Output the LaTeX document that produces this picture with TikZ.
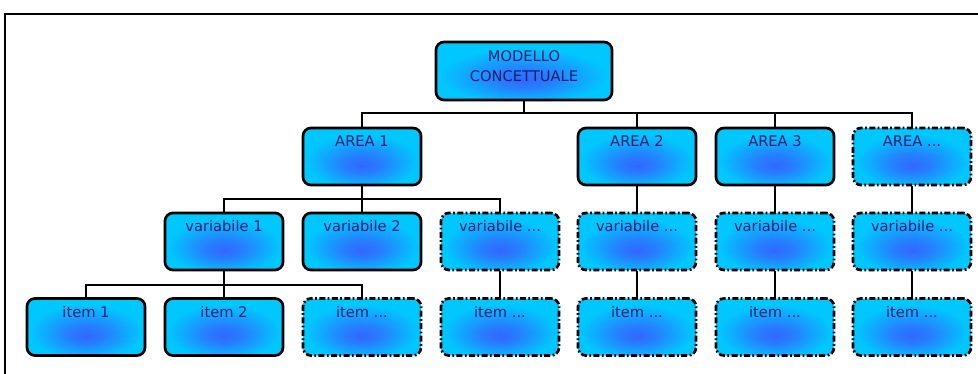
\documentclass[tikz,border=0pt]{standalone}
\usepackage{fontspec}
\setmainfont{DejaVu Sans}
\definecolor{glowin}{RGB}{51,102,255}
\definecolor{glowout}{RGB}{0,200,255}
\definecolor{txtc}{RGB}{20,30,110}
\pgfdeclareradialshading{glow}{\pgfpoint{0bp}{-8bp}}{color(0bp)=(glowin); color(8bp)=(glowin!75!glowout); color(24bp)=(glowout); color(50bp)=(glowout)}
\tikzset{
  box/.style={draw, line width=2pt, rounded corners=6pt, shading=glow,
    minimum width=88.5pt, inner ysep=0pt, text height=13.9pt, text depth=28.85pt,
    font=\fontsize{11}{15}\selectfont, text=txtc},
  dbox/.style={box, dash pattern=on 4.5pt off 1.8pt on 1.3pt off 1.8pt},
  link/.style={line width=2pt},
  frameline/.style={line width=2pt},
}
\begin{document}
\begin{tikzpicture}[x=0.75pt,y=-0.75pt]
\useasboundingbox (0,0) rectangle (978,374);
\draw[frameline] (5,380) -- (5,14) -- (985,14);

\node[box, minimum width=132pt, text height=15pt, text depth=28.5pt] (top) at (524,71)
  {\begin{tabular}[t]{@{}c@{}}MODELLO\\CONCETTUALE\end{tabular}};

\node[box]  (a1) at (362,156.5) {AREA 1};
\node[box]  (a2) at (637,156.5) {AREA 2};
\node[box]  (a3) at (775,156.5) {AREA 3};
\node[dbox] (a4) at (912,156.5) {AREA ...};

\node[box]  (v1) at (224,241.5) {variabile 1};
\node[box]  (v2) at (362,241.5) {variabile 2};
\node[dbox] (v3) at (500,241.5) {variabile ...};
\node[dbox] (v4) at (637,241.5) {variabile ...};
\node[dbox] (v5) at (775,241.5) {variabile ...};
\node[dbox] (v6) at (912,241.5) {variabile ...};

\node[box]  (i1) at (86,327) {item 1};
\node[box]  (i2) at (224,327) {item 2};
\node[dbox] (i3) at (362,327) {item ...};
\node[dbox] (i4) at (500,327) {item ...};
\node[dbox] (i5) at (637,327) {item ...};
\node[dbox] (i6) at (775,327) {item ...};
\node[dbox] (i7) at (912,327) {item ...};

\coordinate (j0) at (524,113);
\draw[link] (top.south) -- (j0);
\draw[link] (a1.north) |- (j0) -| (a4.north);
\draw[link] (a2.north) -- (a2.north |- j0);
\draw[link] (a3.north) -- (a3.north |- j0);

\coordinate (j1) at (362,199);
\draw[link] (a1.south) -- (j1);
\draw[link] (v1.north) |- (j1) -| (v3.north);
\draw[link] (v2.north) -- (j1);

\coordinate (j2) at (224,285);
\draw[link] (v1.south) -- (j2);
\draw[link] (i1.north) |- (j2) -| (i3.north);
\draw[link] (i2.north) -- (j2);

\draw[link] (v3.south) -- (i4.north);
\draw[link] (a2.south) -- (v4.north);
\draw[link] (v4.south) -- (i5.north);
\draw[link] (a3.south) -- (v5.north);
\draw[link] (v5.south) -- (i6.north);
\draw[link] (a4.south) -- (v6.north);
\draw[link] (v6.south) -- (i7.north);
\end{tikzpicture}
\end{document}
